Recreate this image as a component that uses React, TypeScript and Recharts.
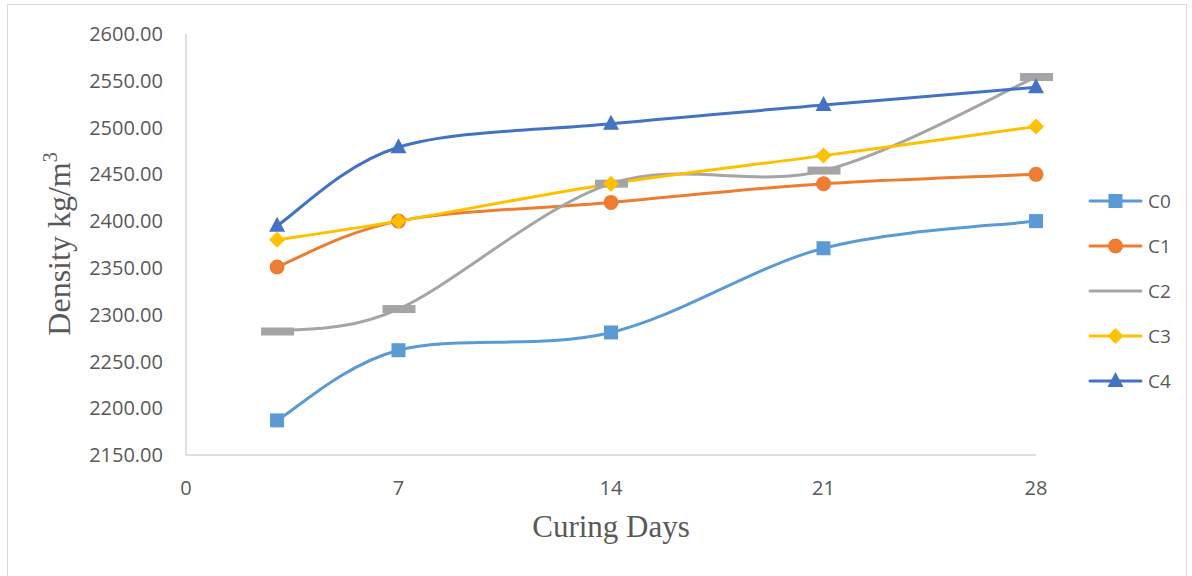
import { LineChart, Line, XAxis, YAxis } from "recharts";

const days = [3, 7, 14, 21, 28];
const c0 = [2187, 2262, 2281, 2371, 2400];
const c1 = [2351, 2400, 2420, 2440, 2450];
const c2 = [2282, 2306, 2440, 2454, 2554];
const c3 = [2380, 2400, 2440, 2470, 2501];
const c4 = [2395, 2479, 2504, 2524, 2543];
const xTicks = [0, 7, 14, 21, 28];
const yTicks = [2150, 2200, 2250, 2300, 2350, 2400, 2450, 2500, 2550, 2600];

const series = [
  { key: "C0", color: "#5B9BD5", marker: "square" },
  { key: "C1", color: "#ED7D31", marker: "circle" },
  { key: "C2", color: "#A5A5A5", marker: "dash" },
  { key: "C3", color: "#FFC000", marker: "diamond" },
  { key: "C4", color: "#4472C4", marker: "triangle" },
];

const data = days.map((d, i) => ({ day: d, C0: c0[i], C1: c1[i], C2: c2[i], C3: c3[i], C4: c4[i] }));

const TICK_COLOR = "#595959";
const TICK_FONT = "'Open Sans', sans-serif";
const TITLE_FONT = "'Liberation Serif', 'Times New Roman', serif";

// excel-like smoothing: catmull-rom through points, as a d3 curve factory
const excelCurve = (context: any) => {
  let pts: number[][] = [];
  return {
    areaStart() {},
    areaEnd() {},
    lineStart() { pts = []; },
    point(x: number, y: number) { pts.push([+x, +y]); },
    lineEnd() {
      if (!pts.length) return;
      context.moveTo(pts[0][0], pts[0][1]);
      for (let i = 0; i < pts.length - 1; i++) {
        const p0 = pts[i - 1] || pts[i];
        const p1 = pts[i];
        const p2 = pts[i + 1];
        const p3 = pts[i + 2] || p2;
        context.bezierCurveTo(
          p1[0] + (p2[0] - p0[0]) / 6, p1[1] + (p2[1] - p0[1]) / 6,
          p2[0] - (p3[0] - p1[0]) / 6, p2[1] - (p3[1] - p1[1]) / 6,
          p2[0], p2[1]
        );
      }
    },
  };
};

const drawMarker = (marker: string, color: string, cx: number, cy: number, key?: string) => {
  switch (marker) {
    case "square":
      return <rect key={key} x={cx - 7} y={cy - 7} width={14} height={14} fill={color} />;
    case "circle":
      return <circle key={key} cx={cx} cy={cy} r={7.5} fill={color} />;
    case "dash":
      return <rect key={key} x={cx - 16} y={cy - 4} width={33} height={8} fill={color} />;
    case "diamond":
      return <path key={key} d={`M${cx},${cy - 8}L${cx + 8},${cy}L${cx},${cy + 8}L${cx - 8},${cy}Z`} fill={color} />;
    default:
      return <path key={key} d={`M${cx},${cy - 9}L${cx + 8},${cy + 6}L${cx - 8},${cy + 6}Z`} fill={color} />;
  }
};

// legend drawn straight into the chart svg
const LegendBox = () => (
  <g transform="translate(1088,190)">
    {series.map((s, i) => {
      const y = 11 + i * 45;
      return (
        <g key={s.key}>
          <line x1={2} x2={53} y1={y} y2={y} stroke={s.color} strokeWidth={3} strokeLinecap="round" />
          {s.marker !== "dash" && drawMarker(s.marker, s.color, 27.5, y)}
          <text x={60} y={y} dy="0.355em" fontSize={19} fill={TICK_COLOR} fontFamily={TICK_FONT}>{s.key}</text>
        </g>
      );
    })}
  </g>
);

const YTitle = () => (
  <text
    transform="translate(70,244) rotate(-90)"
    textAnchor="middle"
    fontSize={32}
    fill={TICK_COLOR}
    fontFamily={TITLE_FONT}
  >
    Density kg/m<tspan fontSize={20} dy={-13}>3</tspan>
  </text>
);

const XTitle = (props: any) => {
  const vb = props.viewBox || { x: 186, width: 850, y: 455 };
  return (
    <text x={vb.x + vb.width / 2} y={537} textAnchor="middle" fontSize={31} fill={TICK_COLOR} fontFamily={TITLE_FONT}>
      Curing Days
    </text>
  );
};

export default function App() {
  return (
    <div style={{ position: "absolute", left: 0, top: 0, width: 1192, height: 576, background: "#fff", overflow: "hidden" }}>
      <div style={{ position: "absolute", left: 7, top: 4, width: 1178, height: 620, border: "1px solid #d9d9d9" }} />
      <LineChart
        width={1192}
        height={576}
        data={data}
        margin={{ top: 34, right: 156, bottom: 91, left: 0 }}
        style={{ position: "absolute", left: 0, top: 0 }}
      >
        <XAxis
          dataKey="day"
          type="number"
          domain={[0, 28]}
          ticks={xTicks}
          height={30}
          stroke="#bfbfbf"
          tickLine={false}
          tickSize={0}
          tickMargin={26}
          tick={{ fill: TICK_COLOR, fontSize: 20, fontFamily: TICK_FONT }}
          label={<XTitle />}
        />
        <YAxis
          type="number"
          domain={[2150, 2600]}
          ticks={yTicks}
          width={186}
          stroke="#bfbfbf"
          tickLine={false}
          tickSize={0}
          tickMargin={23}
          tickFormatter={(v: number) => v.toFixed(2)}
          tick={{ fill: TICK_COLOR, fontSize: 20, fontFamily: TICK_FONT }}
          label={<YTitle />}
        />
        {series.map((s) => (
          <Line
            key={s.key}
            dataKey={s.key}
            type={excelCurve as any}
            stroke={s.color}
            strokeWidth={3}
            isAnimationActive={false}
            dot={(p: any) => drawMarker(s.marker, s.color, p.cx, p.cy, `${s.key}-${p.index}`)}
            activeDot={false}
          />
        ))}
        <LegendBox />
      </LineChart>
    </div>
  );
}
